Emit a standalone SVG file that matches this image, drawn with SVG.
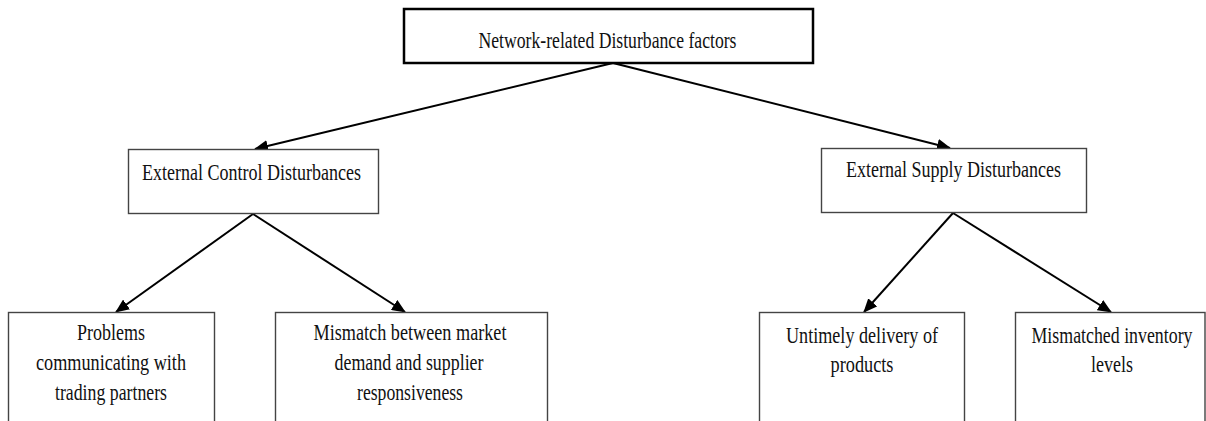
<svg xmlns="http://www.w3.org/2000/svg" width="1206" height="421" viewBox="0 0 1206 421">
<style>
.box{fill:#fff;stroke:#444;stroke-width:1.4}
.top{fill:#fff;stroke:#000;stroke-width:2.5}
.t{font-family:"Liberation Serif","Times New Roman",serif;font-size:23px;fill:#111;text-anchor:middle}
.c{stroke:#000;stroke-width:2;fill:none}
</style>
<defs>
<marker id="ah" markerUnits="userSpaceOnUse" markerWidth="14" markerHeight="12" refX="13" refY="6" orient="auto">
<path d="M0,0 L14,6 L0,12 z" fill="#000"/>
</marker>
</defs>
<g id="connectors">
<line class="c" x1="613" y1="63" x2="255" y2="149" marker-end="url(#ah)"/>
<line class="c" x1="613" y1="63" x2="950" y2="148" marker-end="url(#ah)"/>
<line class="c" x1="253" y1="214" x2="116" y2="312" marker-end="url(#ah)"/>
<line class="c" x1="253" y1="214" x2="405" y2="312" marker-end="url(#ah)"/>
<line class="c" x1="953" y1="213" x2="864" y2="312" marker-end="url(#ah)"/>
<line class="c" x1="953" y1="213" x2="1111" y2="312" marker-end="url(#ah)"/>
</g>
<g id="node-root">
<rect class="top" x="404" y="9" width="409" height="54"/>
<text class="t" x="607.5" y="48" textLength="258" lengthAdjust="spacingAndGlyphs">Network-related Disturbance factors</text>
</g>
<g id="node-control">
<rect class="box" x="128.5" y="149.5" width="250" height="64"/>
<text class="t" x="251.5" y="180" textLength="219" lengthAdjust="spacingAndGlyphs">External Control Disturbances</text>
</g>
<g id="node-supply">
<rect class="box" x="821.5" y="148.5" width="265" height="64"/>
<text class="t" x="953.5" y="177" textLength="215" lengthAdjust="spacingAndGlyphs">External Supply Disturbances</text>
</g>
<g id="node-problems">
<rect class="box" x="8.5" y="312.5" width="206" height="120"/>
<text class="t" x="111" y="340" textLength="68" lengthAdjust="spacingAndGlyphs">Problems</text>
<text class="t" x="111" y="370" textLength="150" lengthAdjust="spacingAndGlyphs">communicating with</text>
<text class="t" x="111" y="400" textLength="112" lengthAdjust="spacingAndGlyphs">trading partners</text>
</g>
<g id="node-mismatch">
<rect class="box" x="275.5" y="312.5" width="272" height="120"/>
<text class="t" x="410" y="340" textLength="193" lengthAdjust="spacingAndGlyphs">Mismatch between market</text>
<text class="t" x="409" y="370" textLength="149" lengthAdjust="spacingAndGlyphs">demand and supplier</text>
<text class="t" x="410" y="400" textLength="106" lengthAdjust="spacingAndGlyphs">responsiveness</text>
</g>
<g id="node-untimely">
<rect class="box" x="759.5" y="312.5" width="205" height="120"/>
<text class="t" x="862" y="343" textLength="152" lengthAdjust="spacingAndGlyphs">Untimely delivery of</text>
<text class="t" x="862" y="372" textLength="63" lengthAdjust="spacingAndGlyphs">products</text>
</g>
<g id="node-inventory">
<rect class="box" x="1015.5" y="312.5" width="189.5" height="120"/>
<text class="t" x="1112" y="343" textLength="161" lengthAdjust="spacingAndGlyphs">Mismatched inventory</text>
<text class="t" x="1112" y="372" textLength="42" lengthAdjust="spacingAndGlyphs">levels</text>
</g>
</svg>
